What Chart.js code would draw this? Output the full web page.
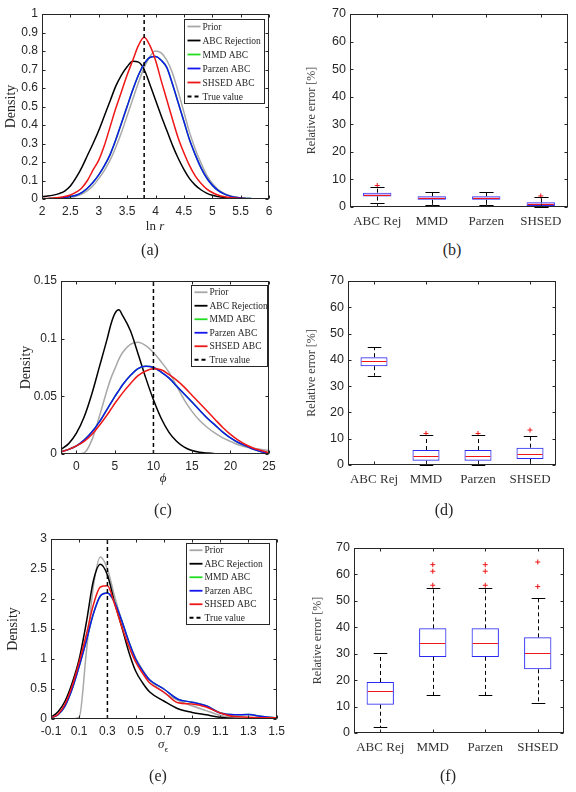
<!DOCTYPE html>
<html>
<head>
<meta charset="utf-8">
<script src="https://cdn.jsdelivr.net/npm/chart.js@4.4.1/dist/chart.umd.min.js"></script>
<style>
  body { margin: 0; background: #fff; }
  #page { position: relative; width: 576px; height: 792px; overflow: hidden; background: #fff; }
  #page canvas { position: absolute; }
  .lbl { position: absolute; transform: translate(-50%, -50%); white-space: nowrap;
         font-family: 'Liberation Serif', serif; color: #262626; }
  .xl { font-size: 13px; }
  .cap { font-size: 16px; }
</style>
</head>
<body>
<div id="page">
  <canvas id="chartA" width="290" height="240" style="left:0;top:0"></canvas>
  <canvas id="chartB" width="286" height="240" style="left:290px;top:0"></canvas>
  <canvas id="chartC" width="290" height="240" style="left:0;top:265px"></canvas>
  <canvas id="chartD" width="286" height="240" style="left:290px;top:265px"></canvas>
  <canvas id="chartE" width="290" height="240" style="left:0;top:525px"></canvas>
  <canvas id="chartF" width="286" height="240" style="left:290px;top:525px"></canvas>

  <div class="lbl xl" style="left:155px;top:226px">ln <i>r</i></div>
  <div class="lbl xl" style="left:163px;top:478px"><i>ϕ</i></div>
  <div class="lbl xl" style="left:163px;top:745px"><i>σ</i><sub style="font-size:9px">ϵ</sub></div>

  <div class="lbl cap" style="left:150px;top:250px">(a)</div>
  <div class="lbl cap" style="left:452px;top:250px">(b)</div>
  <div class="lbl cap" style="left:163px;top:510px">(c)</div>
  <div class="lbl cap" style="left:444px;top:510px">(d)</div>
  <div class="lbl cap" style="left:158px;top:776px">(e)</div>
  <div class="lbl cap" style="left:448px;top:776px">(f)</div>
</div>
<script>
/* posterior densities (left) and relative-error box plots (right) */

// ---- (a) ln r ----
const lnrX = [2.0, 2.1, 2.2, 2.3, 2.4, 2.5, 2.6, 2.7, 2.8, 2.9, 3.0, 3.1, 3.2, 3.3, 3.4, 3.5, 3.6, 3.7, 3.8, 3.9,
              4.0, 4.1, 4.2, 4.3, 4.4, 4.5, 4.6, 4.7, 4.8, 4.9, 5.0, 5.1, 5.2, 5.3, 5.4, 5.5, 5.6, 5.7, 5.8, 5.9, 6.0];
const lnrPrior = [0, .001, .002, .003, .005, .009, .015, .027, .045, .072, .11, .155, .21, .28, .36, .45, .54, .63, .71, .77,
                  .80, .79, .75, .68, .58, .47, .36, .27, .195, .13, .085, .053, .032, .019, .011, .006, .003, .002, .001, 0, 0];
const lnrRej = [.013, .016, .021, .029, .043, .07, .115, .17, .235, .3, .37, .45, .53, .61, .67, .715, .745, .74, .70, .62,
                .535, .45, .37, .29, .22, .16, .11, .075, .05, .032, .02, .013, .008, .005, .003, .002, .001, .001, 0, 0, 0];
const lnrParzen = [.001, .002, .003, .005, .008, .013, .02, .035, .058, .09, .13, .18, .24, .32, .41, .50, .59, .67, .73, .765,
                   .77, .75, .71, .62, .52, .42, .32, .24, .17, .115, .075, .047, .029, .017, .01, .006, .003, .002, .001, 0, 0];
const lnrMmd = [...lnrParzen]; // MMD ABC lies under Parzen ABC in the figure
const lnrShsed = [.002, .003, .005, .008, .013, .022, .037, .06, .1, .157, .21, .29, .39, .49, .58, .67, .75, .83, .875, .83,
                  .75, .64, .535, .43, .33, .25, .18, .125, .085, .055, .035, .022, .013, .008, .005, .003, .002, .001, .001, 0, 0];
const lnrTrue = 3.8;
const lnrRange = [2, 6];
const lnrTicksX = [2, 2.5, 3, 3.5, 4, 4.5, 5, 5.5, 6];
const lnrTicksY = [0, 0.1, 0.2, 0.3, 0.4, 0.5, 0.6, 0.7, 0.8, 0.9, 1];

// ---- (c) phi ----
const phiX = [-2, -1, 0, 1, 2, 3, 4, 4.5, 5, 5.5, 6, 7, 8, 9, 10, 11, 12, 13, 14, 15, 16, 17, 18, 19, 20, 21, 22, 23, 24, 25];
const phiPrior = [0, 0, 0, .001, .012, .033, .056, .066, .074, .082, .088, .095, .097, .094, .088, .08, .071, .059, .047, .037,
                  .029, .023, .018, .014, .011, .008, .006, .005, .004, .003];
const phiRej = [.004, .009, .018, .032, .052, .076, .1, .113, .122, .125, .12, .107, .087, .066, .047, .031, .019, .011, .006, .003,
                .0015, .0008, .0003, 0, 0, 0, 0, 0, 0, 0];
const phiParzen = [.002, .004, .007, .012, .019, .028, .039, .0445, .05, .055, .06, .068, .074, .076, .075, .071, .066, .059, .052, .045,
                   .038, .031, .025, .019, .014, .01, .007, .004, .002, .001];
const phiMmd = [...phiParzen];
const phiShsed = [.002, .004, .007, .011, .017, .025, .034, .039, .044, .0485, .053, .061, .068, .072, .074, .073, .069, .064, .058, .051,
                  .044, .037, .03, .023, .017, .012, .008, .005, .003, .001];
const phiTrue = 10;
const phiRange = [-2, 25];
const phiTicksX = [0, 5, 10, 15, 20, 25];
const phiTicksY = [0, 0.05, 0.1, 0.15];

// ---- (e) sigma_eps ----
const sigX = [-0.1, -0.05, 0, 0.05, 0.1, 0.15, 0.2, 0.25, 0.3, 0.35, 0.4, 0.45, 0.5, 0.55, 0.6,
              0.7, 0.8, 0.9, 1.0, 1.1, 1.2, 1.3, 1.4, 1.5];
const sigPrior = [0, 0, 0, 0, .03, 1.1, 2.2, 2.7, 2.5, 2.05, 1.65, 1.3, 1.02, .82, .65, .44, .31, .22, .14, .06, .025, .015, .01, .005];
const sigRej = [.03, .12, .3, .6, 1.0, 1.6, 2.3, 2.58, 2.4, 1.95, 1.55, 1.13, .8, .6, .45, .3, .17, .11, .07, .03, .01, .003, 0, 0];
const sigParzen = [.02, .07, .22, .5, .88, 1.3, 1.75, 2.05, 2.1, 1.95, 1.65, 1.3, 1.0, .8, .65, .5, .33, .28, .22, .1, .07, .075, .04, .02];
const sigMmd = [...sigParzen];
const sigShsed = [.02, .08, .25, .55, .95, 1.4, 1.9, 2.2, 2.22, 1.92, 1.55, 1.22, .95, .76, .6, .45, .27, .25, .2, .1, .04, .03, .02, .02];
const sigTrue = 0.3;
const sigRange = [-0.1, 1.5];
const sigTicksX = [-0.1, 0.1, 0.3, 0.5, 0.7, 0.9, 1.1, 1.3, 1.5];
const sigTicksY = [0, 0.5, 1, 1.5, 2, 2.5, 3];

// ---- box plots: relative error [%] ----
const errCats = ['ABC Rej', 'MMD', 'Parzen', 'SHSED'];
const errTicksY = [0, 10, 20, 30, 40, 50, 60, 70];

const lnrLow = [1.6, 0.8, 0.8, 0.1];
const lnrQ1 = [3.8, 2.6, 2.6, 0.4];
const lnrMed = [4.5, 3.2, 3.2, 1.0];
const lnrQ3 = [5.2, 3.9, 3.9, 1.7];
const lnrHigh = [7.4, 5.5, 5.5, 3.5];
const lnrOut = [['ABC Rej', 7.8], ['SHSED', 4.0]];

const phiLow = [34.0, 0, 0, 0.2];
const phiQ1 = [37.6, 1.6, 1.6, 2.3];
const phiMed = [39.6, 3.4, 3.4, 4.0];
const phiQ3 = [41.0, 5.7, 5.7, 6.6];
const phiHigh = [44.8, 11.3, 11.3, 11.1];
const phiOut = [['MMD', 12.0], ['Parzen', 12.0], ['SHSED', 13.3]];

const sigLow = [2.1, 14.2, 14.2, 11.3];
const sigQ1 = [10.7, 28.8, 28.8, 24.1];
const sigMed = [15.9, 34.0, 34.0, 30.1];
const sigQ3 = [19.3, 39.6, 39.6, 36.2];
const sigHigh = [30.2, 54.9, 54.9, 51.2];
const sigOut = [['MMD', 55.9], ['MMD', 61.2], ['MMD', 63.7], ['Parzen', 55.9], ['Parzen', 61.2], ['Parzen', 63.7],
                ['SHSED', 55.4], ['SHSED', 64.7]];

// colours
const AXIS = '#262626';
const GRAY = '#a8a8a8';
const GREEN = '#22dd22';
const BLUE = '#1414ee';
const RED = '#ee1616';
const BOX_BLUE = '#2a2af2';

Chart.defaults.font.family = "'Liberation Sans', Arial, sans-serif";
Chart.defaults.color = AXIS;
Chart.defaults.animation = false;

// axes box with inward ticks on all four sides (matlab style)
const framePlugin = {
    id: 'frame',
    afterDatasetsDraw(chart) {
        const { ctx, chartArea: a, scales: { x, y } } = chart;
        const L = Math.round(a.left) + 0.5, R = Math.round(a.right) - 0.5;
        const T = Math.round(a.top) + 0.5, B = Math.round(a.bottom) - 0.5;
        ctx.save();
        ctx.strokeStyle = AXIS;
        ctx.lineWidth = 1;
        ctx.strokeRect(L, T, R - L, B - T);
        ctx.beginPath();
        x.ticks.forEach((t, i) => {
            const px = Math.round(x.getPixelForTick(i)) + 0.5;
            ctx.moveTo(px, B); ctx.lineTo(px, B - 3);
            ctx.moveTo(px, T); ctx.lineTo(px, T + 3);
        });
        y.ticks.forEach((t, i) => {
            const py = Math.round(y.getPixelForTick(i)) + 0.5;
            ctx.moveTo(L, py); ctx.lineTo(L + 3, py);
            ctx.moveTo(R, py); ctx.lineTo(R - 3, py);
        });
        ctx.stroke();
        ctx.restore();
    }
};

// legend box drawn inside the plot, top right
const legendBox = {
    id: 'legendBox',
    afterDraw(chart, args, opts) {
        const { ctx, chartArea: a } = chart;
        const sets = chart.data.datasets;
        const rowH = opts.h / sets.length;
        const x0 = Math.round(a.right - opts.right - opts.w) + 0.5;
        const y0 = Math.round(a.top + opts.top) + 0.5;
        ctx.save();
        ctx.fillStyle = '#fff';
        ctx.fillRect(x0, y0, opts.w, opts.h);
        ctx.strokeStyle = AXIS;
        ctx.lineWidth = 1;
        ctx.strokeRect(x0, y0, opts.w, opts.h);
        ctx.font = "9.5px 'Liberation Serif', serif";
        ctx.textBaseline = 'middle';
        sets.forEach((ds, i) => {
            const yy = y0 + rowH * (i + 0.5);
            ctx.strokeStyle = ds.borderColor;
            ctx.lineWidth = 1.8;
            ctx.setLineDash(ds.borderDash || []);
            ctx.beginPath();
            ctx.moveTo(x0 + 3, yy); ctx.lineTo(x0 + 16, yy);
            ctx.stroke();
            ctx.setLineDash([]);
            ctx.fillStyle = AXIS;
            ctx.fillText(ds.label, x0 + 18, yy + 0.5);
        });
        ctx.restore();
    }
};

// whiskers, caps and medians for the box plots
const boxParts = {
    id: 'boxParts',
    afterDatasetsDraw(chart, args, opts) {
        const { ctx, scales: { y } } = chart;
        const boxes = chart.getDatasetMeta(0).data;
        ctx.save();
        boxes.forEach((bar, i) => {
            const cx = Math.round(bar.x) + 0.5, half = bar.width / 2;
            const yLow = y.getPixelForValue(opts.low[i]), yHigh = y.getPixelForValue(opts.high[i]);
            const yQ1 = y.getPixelForValue(opts.q1[i]), yQ3 = y.getPixelForValue(opts.q3[i]);
            ctx.strokeStyle = '#000';
            ctx.lineWidth = 1;
            ctx.setLineDash([4, 3]);
            ctx.beginPath();
            ctx.moveTo(cx, yQ3); ctx.lineTo(cx, yHigh);
            ctx.moveTo(cx, yQ1); ctx.lineTo(cx, yLow);
            ctx.stroke();
            ctx.setLineDash([]);
            ctx.beginPath();
            ctx.moveTo(cx - half / 2, Math.round(yHigh) + 0.5); ctx.lineTo(cx + half / 2, Math.round(yHigh) + 0.5);
            ctx.moveTo(cx - half / 2, Math.round(yLow) + 0.5); ctx.lineTo(cx + half / 2, Math.round(yLow) + 0.5);
            ctx.stroke();
            const yMed = Math.round(y.getPixelForValue(opts.med[i])) + 0.5;
            ctx.strokeStyle = RED;
            ctx.beginPath();
            ctx.moveTo(bar.x - half + 1, yMed); ctx.lineTo(bar.x + half - 1, yMed);
            ctx.stroke();
        });
        ctx.restore();
    }
};

function fixTicks(arr) {
    return s => { s.ticks = arr.map(value => ({ value })); };
}

function fmt(v) {
    return String(+Number(v).toFixed(3));
}

function densityChart(id, p) {
    const pts = ys => p.x.map((x, i) => ({ x, y: ys[i] }));
    const curve = (label, ys, color, order) => ({
        label, data: pts(ys), borderColor: color, borderWidth: 1.5,
        pointRadius: 0, cubicInterpolationMode: 'monotone', order
    });
    const yMin = p.ticksY[0], yMax = p.ticksY[p.ticksY.length - 1];
    return new Chart(document.getElementById(id), {
        type: 'line',
        data: {
            datasets: [
                curve('Prior', p.prior, GRAY, 6),
                curve('ABC Rejection', p.rej, '#000', 5),
                curve('MMD ABC', p.mmd, GREEN, 4),
                curve('Parzen ABC', p.parzen, BLUE, 3),
                curve('SHSED ABC', p.shsed, RED, 2),
                {
                    label: 'True value', data: [{ x: p.truth, y: yMin }, { x: p.truth, y: yMax }],
                    borderColor: '#000', borderWidth: 1.5, borderDash: [4, 3], pointRadius: 0, order: 1
                }
            ]
        },
        options: {
            responsive: false,
            layout: { padding: { top: p.area.top, right: p.area.right, left: 0, bottom: 0 } },
            scales: {
                x: {
                    type: 'linear', min: p.range[0], max: p.range[1],
                    grid: { display: false, drawTicks: false }, border: { display: false },
                    afterBuildTicks: fixTicks(p.ticksX),
                    afterFit: s => { s.height = p.area.xH; },
                    ticks: { callback: fmt, padding: 5, maxRotation: 0, autoSkip: false, font: { size: 12 } }
                },
                y: {
                    min: yMin, max: yMax,
                    grid: { display: false, drawTicks: false }, border: { display: false },
                    afterBuildTicks: fixTicks(p.ticksY),
                    afterFit: s => { s.width = p.area.yW; },
                    ticks: { callback: fmt, padding: 4, autoSkip: false, font: { size: 12 } },
                    title: {
                        display: true, text: 'Density', color: AXIS,
                        font: { family: "'Liberation Serif', serif", size: 14 },
                        padding: { top: p.area.titlePad, bottom: 0 }
                    }
                }
            },
            plugins: {
                legend: { display: false },
                tooltip: { enabled: false },
                legendBox: p.legend
            }
        },
        plugins: [framePlugin, legendBox]
    });
}

function boxChart(id, p) {
    return new Chart(document.getElementById(id), {
        type: 'bar',
        data: {
            labels: errCats,
            datasets: [
                {
                    type: 'bar', data: p.q1.map((q, i) => [q, p.q3[i]]),
                    backgroundColor: p.fill, borderColor: BOX_BLUE, borderWidth: 1,
                    borderSkipped: false, barPercentage: 0.52, categoryPercentage: 1, order: 2
                },
                {
                    type: 'scatter', data: p.out.map(([c, v]) => ({ x: c, y: v })),
                    pointStyle: 'cross', pointRadius: 2.5, borderColor: RED, borderWidth: 1, order: 1
                }
            ]
        },
        options: {
            responsive: false,
            layout: { padding: { top: p.area.top, right: p.area.right, left: 0, bottom: 0 } },
            scales: {
                x: {
                    type: 'category', offset: true,
                    grid: { display: false, drawTicks: false }, border: { display: false },
                    afterFit: s => { s.height = p.area.xH; },
                    ticks: {
                        padding: 7, maxRotation: 0, autoSkip: false, color: '#333',
                        font: { family: "'Liberation Serif', serif", size: 13 }
                    }
                },
                y: {
                    min: 0, max: 70,
                    grid: { display: false, drawTicks: false }, border: { display: false },
                    afterBuildTicks: fixTicks(errTicksY),
                    afterFit: s => { s.width = p.area.yW; },
                    ticks: { padding: 4, autoSkip: false, font: { size: 12.5 } },
                    title: {
                        display: true, text: 'Relative error [%]', color: '#3a3a3a',
                        font: { family: "'Liberation Serif', serif", size: 12 },
                        padding: { top: p.area.titlePad, bottom: 0 }
                    }
                }
            },
            plugins: {
                legend: { display: false },
                tooltip: { enabled: false },
                boxParts: p
            }
        },
        plugins: [boxParts, framePlugin]
    });
}

densityChart('chartA', {
    x: lnrX, prior: lnrPrior, rej: lnrRej, mmd: lnrMmd, parzen: lnrParzen, shsed: lnrShsed,
    truth: lnrTrue, range: lnrRange, ticksX: lnrTicksX, ticksY: lnrTicksY,
    area: { top: 14, right: 21, yW: 42, xH: 41, titlePad: 3 },
    legend: { w: 80, h: 84, right: 5, top: 5 }
});
densityChart('chartC', {
    x: phiX, prior: phiPrior, rej: phiRej, mmd: phiMmd, parzen: phiParzen, shsed: phiShsed,
    truth: phiTrue, range: phiRange, ticksX: phiTicksX, ticksY: phiTicksY,
    area: { top: 16, right: 21, yW: 61, xH: 51, titlePad: 18 },
    legend: { w: 76, h: 81, right: 2, top: 4 }
});
densityChart('chartE', {
    x: sigX, prior: sigPrior, rej: sigRej, mmd: sigMmd, parzen: sigParzen, shsed: sigShsed,
    truth: sigTrue, range: sigRange, ticksX: sigTicksX, ticksY: sigTicksY,
    area: { top: 14, right: 13, yW: 51, xH: 46, titlePad: 5 },
    legend: { w: 83, h: 81, right: 8, top: 4 }
});

boxChart('chartB', {
    low: lnrLow, q1: lnrQ1, med: lnrMed, q3: lnrQ3, high: lnrHigh, out: lnrOut,
    fill: 'rgba(196,160,236,0.75)',
    area: { top: 14, right: 8, yW: 60, xH: 33, titlePad: 15 }
});
boxChart('chartD', {
    low: phiLow, q1: phiQ1, med: phiMed, q3: phiQ3, high: phiHigh, out: phiOut,
    fill: 'rgba(255,255,255,0)',
    area: { top: 16, right: 20, yW: 58, xH: 40, titlePad: 15 }
});
boxChart('chartF', {
    low: sigLow, q1: sigQ1, med: sigMed, q3: sigQ3, high: sigHigh, out: sigOut,
    fill: 'rgba(255,255,255,0)',
    area: { top: 23, right: 12, yW: 64, xH: 32, titlePad: 21 }
});
</script>
</body>
</html>
